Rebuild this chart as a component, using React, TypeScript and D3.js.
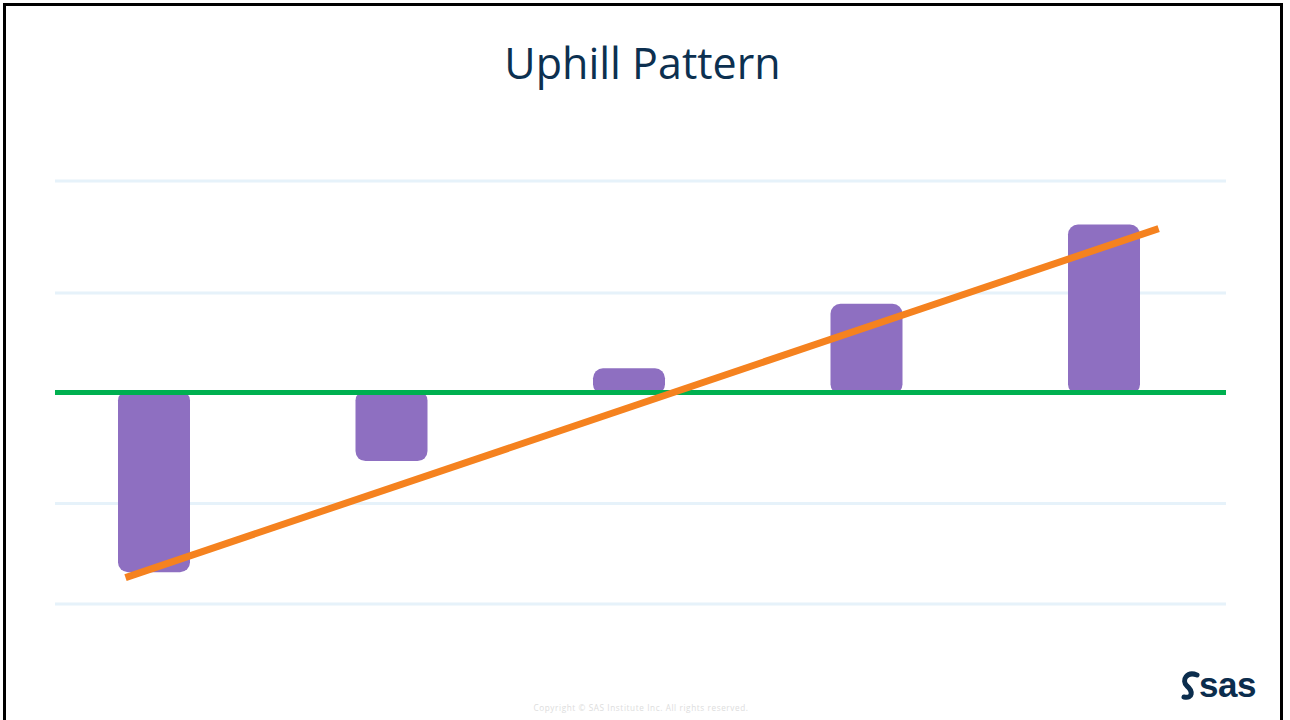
import * as d3 from "d3"

const categories = ["A", "B", "C", "D", "E"]
const barValues = [-1.68, -0.63, 0.21, 0.82, 1.57]
const gridValues = [-2, -1.05, 0.94, 2]
const trendX = [-0.12, 4.23]
const trendY = [-1.75, 1.55]

const W = 1290
const H = 720

const App = () => {
  const x = d3.scaleLinear().domain([0, categories.length - 1]).range([154, 1104])
  const y = d3.scaleLinear().domain([-2, 2]).range([604, 181])
  const barW = 72

  const trendLine = d3.line<number>()
    .x((_, i) => x(trendX[i]))
    .y(d => y(d))

  return (
    <svg width={W} height={H} style={{ position: "absolute", left: 0, top: 0, background: "#fff" }}>
      {/* frame */}
      <line x1={3} y1={4.5} x2={1283} y2={4.5} stroke="#000" strokeWidth={3} />
      <line x1={4.5} y1={3} x2={4.5} y2={H} stroke="#000" strokeWidth={3} />
      <line x1={1281.5} y1={3} x2={1281.5} y2={H} stroke="#000" strokeWidth={3} />

      <text x={642.5} y={79} textAnchor="middle" fontFamily="Open Sans" fontSize={43} fill="#0c3050">
        Uphill Pattern
      </text>

      {gridValues.map(v => (
        <line key={v} x1={55} x2={1226} y1={y(v)} y2={y(v)} stroke="#e6f2fa" strokeWidth={3} />
      ))}

      {barValues.map((v, i) => {
        const y0 = y(0)
        const y1 = y(v)
        return (
          <rect
            key={categories[i]}
            x={x(i) - barW / 2}
            y={Math.min(y0, y1) - 2}
            width={barW}
            height={Math.abs(y1 - y0) + 4}
            rx={10}
            fill="#8e6fc1"
          />
        )
      })}

      <line x1={55} x2={1226} y1={y(0)} y2={y(0)} stroke="#00b050" strokeWidth={5} />

      <path d={trendLine(trendY) ?? ""} stroke="#f5821f" strokeWidth={7} fill="none" />

      {/* logo */}
      <path
        d="M1197 675 C1187 671 1181 680 1187 686 C1193 691 1193 699 1184 697"
        stroke="#0b2d4d" strokeWidth={5} fill="none" strokeLinecap="round"
      />
      <text x={1199} y={697} fontFamily="Liberation Sans" fontWeight={700} fontSize={35} fill="#0b2d4d" letterSpacing={-0.5}>
        sas
      </text>

      <text x={641} y={711} textAnchor="middle" fontFamily="Open Sans" fontSize={8.2} fill="#dddddd" letterSpacing={0.6}>
        Copyright © SAS Institute Inc. All rights reserved.
      </text>
    </svg>
  )
}

export default App
